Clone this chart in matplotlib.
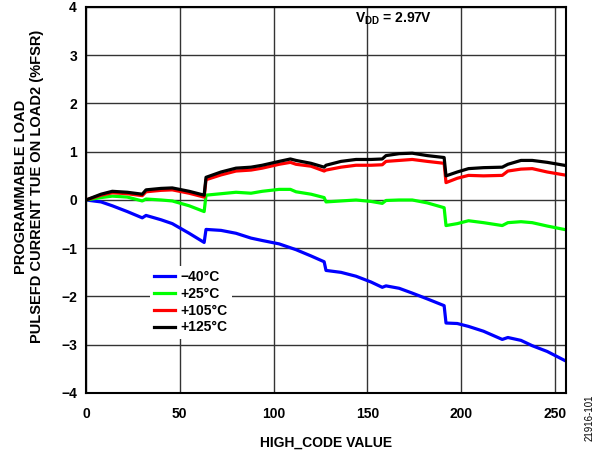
import matplotlib
matplotlib.use("Agg")
import matplotlib.pyplot as plt

plt.rcParams['font.family'] = ['Liberation Sans', 'DejaVu Sans']
plt.rcParams['mathtext.fontset'] = 'custom'
plt.rcParams['mathtext.rm'] = 'Liberation Sans:bold'
plt.rcParams['mathtext.bf'] = 'Liberation Sans:bold'

# HIGH_CODE breakpoints
codes = [0, 8, 14, 22, 30, 32, 40, 46, 55, 63, 64, 72, 80, 88, 94, 103, 109,
         112, 120, 127, 128, 136, 144, 152, 158, 160, 167, 174, 182, 191, 192,
         198, 204, 212, 222, 225, 232, 238, 246, 255]

tue_m40 = [0, -0.04, -0.12, -0.24, -0.37, -0.32, -0.41, -0.49, -0.69, -0.88,
           -0.61, -0.63, -0.69, -0.79, -0.84, -0.91, -0.99, -1.03, -1.16, -1.28,
           -1.46, -1.50, -1.58, -1.70, -1.81, -1.78, -1.83, -1.93, -2.05, -2.19,
           -2.55, -2.56, -2.62, -2.72, -2.89, -2.85, -2.91, -3.02, -3.14, -3.32]
tue_25 = [0, 0.05, 0.08, 0.06, -0.02, 0.02, 0.0, -0.02, -0.12, -0.24,
          0.10, 0.13, 0.16, 0.14, 0.18, 0.22, 0.22, 0.17, 0.12, 0.05,
          -0.04, -0.02, 0.0, -0.03, -0.07, -0.01, 0.0, 0.0, -0.06, -0.16,
          -0.53, -0.49, -0.43, -0.47, -0.53, -0.47, -0.45, -0.47, -0.54, -0.61]
tue_105 = [0, 0.10, 0.15, 0.13, 0.09, 0.17, 0.20, 0.21, 0.14, 0.06,
           0.42, 0.52, 0.60, 0.62, 0.66, 0.74, 0.78, 0.74, 0.70, 0.60,
           0.62, 0.68, 0.72, 0.72, 0.73, 0.80, 0.82, 0.84, 0.80, 0.76,
           0.36, 0.45, 0.51, 0.50, 0.51, 0.60, 0.64, 0.65, 0.58, 0.52]
tue_125 = [0, 0.12, 0.18, 0.16, 0.12, 0.21, 0.24, 0.25, 0.18, 0.10,
           0.47, 0.58, 0.66, 0.68, 0.72, 0.80, 0.85, 0.82, 0.76, 0.68,
           0.72, 0.80, 0.84, 0.84, 0.85, 0.92, 0.96, 0.97, 0.92, 0.88,
           0.50, 0.58, 0.65, 0.67, 0.68, 0.74, 0.82, 0.82, 0.78, 0.72]

labels = ['\u221240\u00b0C', '+25\u00b0C', '+105\u00b0C', '+125\u00b0C']
colors = ['#0000FF', '#00FF00', '#FF0000', '#000000']

fig = plt.figure(figsize=(6.02, 4.54), dpi=100)
ax = fig.add_axes([0.1429, 0.1344, 0.7973, 0.8502])

for ys, lab, c in zip([tue_m40, tue_25, tue_105, tue_125], labels, colors):
    ax.plot(codes, ys, color=c, linewidth=2.3, label=lab)

ax.set_xlim(0, 256)
ax.set_ylim(-4, 4)
ax.set_xticks([0, 50, 100, 150, 200, 250])
ax.set_yticks(range(-4, 5))
ax.set_yticklabels([str(v).replace('-', '\u2212') for v in range(-4, 5)])
ax.grid(True, color='#333333', linewidth=1.0)
ax.tick_params(length=0, labelsize=10)
ax.tick_params(axis='x', pad=10)
ax.tick_params(axis='y', pad=6.5)
for lbl in ax.get_xticklabels() + ax.get_yticklabels():
    lbl.set_fontweight('bold')
for sp in ax.spines.values():
    sp.set_linewidth(1.5)

ax.set_xlabel('HIGH_CODE VALUE', fontsize=10, fontweight='bold', labelpad=11)
ax.set_ylabel('PROGRAMMABLE LOAD\nPULSEFD CURRENT TUE ON LOAD2 (%FSR)',
              fontsize=10.5, fontweight='bold')
ax.yaxis.set_label_coords(-0.0875, 0.535)

ax.text(143.4, 3.75, r'V$_{\mathbf{DD}}$ = 2.97V', fontsize=10,
        fontweight='bold', va='center')

leg = ax.legend(loc='upper left', bbox_to_anchor=(0.119, 0.347), frameon=True,
                framealpha=1, edgecolor='none', fancybox=False,
                handlelength=1.5, handletextpad=0.4, labelspacing=0.2,
                prop={'weight': 'bold', 'size': 10}, borderpad=0.3)

fig.text(0.980, 0.079, '21916-101', rotation=90, fontsize=7,
         ha='center', va='center')

fig.savefig('out.png', dpi=100)
